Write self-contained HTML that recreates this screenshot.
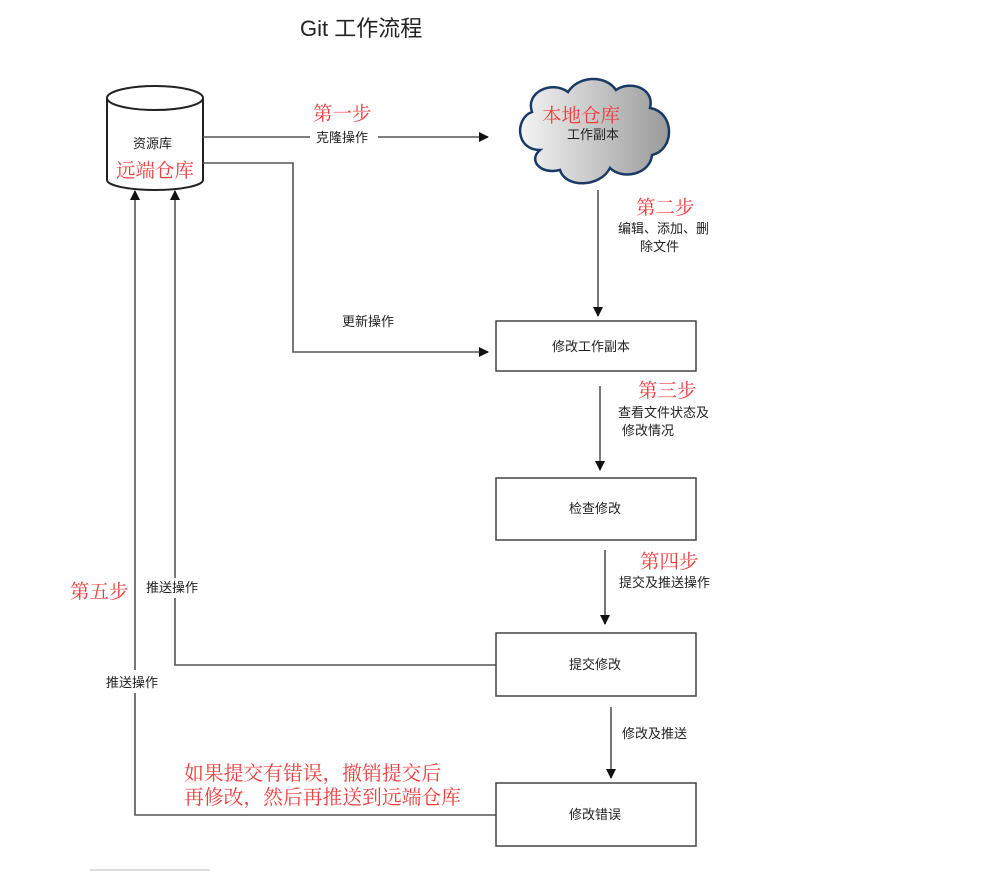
<!DOCTYPE html>
<html><head><meta charset="utf-8"><style>
html,body{margin:0;padding:0;background:#fff;}
svg{display:block;}
.t{font-family:"Liberation Sans","Noto Sans CJK SC",sans-serif;font-size:13px;fill:#222;}
.r{font-family:"Liberation Serif","Noto Serif CJK SC",serif;font-size:19.5px;fill:#f03c3c;}
</style></head><body>
<svg width="1001" height="872" viewBox="0 0 1001 872" xmlns="http://www.w3.org/2000/svg">
<defs>
<marker id="a" markerWidth="10" markerHeight="10" refX="9" refY="5" orient="auto" markerUnits="userSpaceOnUse">
<path d="M0,0 L10,5 L0,10 z" fill="#111"/></marker>
<linearGradient id="g" x1="0" y1="0" x2="1" y2="0">
<stop offset="0" stop-color="#f4f4f4"/><stop offset="1" stop-color="#9a9a9a"/></linearGradient>
</defs>
<text x="300" y="36" style="font-family:'Liberation Sans','Noto Sans CJK SC',sans-serif;font-size:22px;fill:#222">Git 工作流程</text>

<path d="M107,98 L107,180 A48,10 0 0 0 203,180 L203,98" fill="#fff" stroke="#222" stroke-width="2"/>
<ellipse cx="155" cy="98" rx="48" ry="12" fill="#fff" stroke="#222" stroke-width="2"/>
<text class="t" x="133" y="148">资源库</text>
<text class="r" x="116" y="177">远端仓库</text>

<path d="M540,150 C515,150 515,118 532,112 C525,92 552,80 568,92 C578,76 605,74 616,90 C630,80 655,88 650,108 C675,112 675,150 652,155 C650,175 622,180 610,168 C600,188 565,188 560,170 C540,175 528,160 540,150 Z" fill="url(#g)" stroke="#1a3a66" stroke-width="2.5"/>
<text class="r" x="542" y="122">本地仓库</text>
<text class="t" x="567" y="139">工作副本</text>

<g stroke="#555" stroke-width="1.6" fill="none">
<line x1="203" y1="137" x2="310" y2="137"/>
<line x1="378" y1="137" x2="488" y2="137" marker-end="url(#a)"/>
<polyline points="203,163 293,163 293,352 488,352" marker-end="url(#a)"/>
<line x1="598" y1="190" x2="598" y2="316" marker-end="url(#a)"/>
<line x1="600" y1="386" x2="600" y2="470" marker-end="url(#a)"/>
<line x1="605" y1="550" x2="605" y2="624" marker-end="url(#a)"/>
<line x1="611" y1="707" x2="611" y2="778" marker-end="url(#a)"/>
<polyline points="496,665 175,665 175,598"/>
<line x1="175" y1="578" x2="175" y2="191" marker-end="url(#a)"/>
<polyline points="496,815 135,815 135,693"/>
<line x1="135" y1="670" x2="135" y2="191" marker-end="url(#a)"/>
</g>

<text class="r" x="313" y="120">第一步</text>
<text class="t" x="316" y="142">克隆操作</text>
<text class="t" x="342" y="326">更新操作</text>
<text class="r" x="636" y="214">第二步</text>
<text class="t" x="618" y="233">编辑、添加、删</text>
<text class="t" x="640" y="251">除文件</text>
<text class="r" x="638" y="397">第三步</text>
<text class="t" x="618" y="417">查看文件状态及</text>
<text class="t" x="622" y="435">修改情况</text>
<text class="r" x="640" y="568">第四步</text>
<text class="t" x="619" y="587">提交及推送操作</text>
<text class="t" x="622" y="738">修改及推送</text>
<text class="r" x="70" y="598">第五步</text>
<text class="t" x="146" y="592">推送操作</text>
<text class="t" x="106" y="687">推送操作</text>
<text class="r" x="184" y="780" style="font-size:19.8px">如果提交有错误，撤销提交后</text>
<text class="r" x="184" y="804" style="font-size:19.8px">再修改，然后再推送到远端仓库</text>

<g fill="#fff" stroke="#444" stroke-width="1.5">
<rect x="496" y="321" width="200" height="50"/>
<rect x="496" y="478" width="200" height="62"/>
<rect x="496" y="633" width="200" height="63"/>
<rect x="496" y="783" width="200" height="63"/>
</g>
<text class="t" x="552" y="351">修改工作副本</text>
<text class="t" x="569" y="513">检查修改</text>
<text class="t" x="569" y="669">提交修改</text>
<text class="t" x="569" y="819">修改错误</text>
<line x1="90" y1="870" x2="210" y2="870" stroke="#bbb" stroke-width="1"/>
</svg>
</body></html>
